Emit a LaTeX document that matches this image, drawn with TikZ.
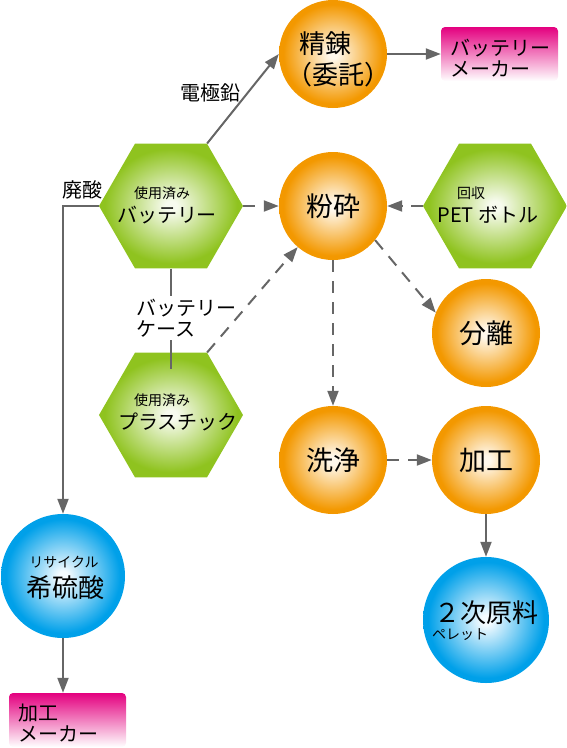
\documentclass[tikz,border=0pt]{standalone}
\usepackage{fontspec}
\setmainfont{Noto Sans CJK JP}
\usetikzlibrary{shapes.geometric,arrows.meta}
\definecolor{oe}{HTML}{F39800}
\definecolor{oc}{HTML}{FFF8EC}
\definecolor{ge}{HTML}{8FC31F}
\definecolor{gc}{HTML}{F7FBEF}
\definecolor{be}{HTML}{00A0E9}
\definecolor{bc}{HTML}{F4FBFF}
\definecolor{pe}{HTML}{E4007F}
\definecolor{lc}{HTML}{666666}
\pgfdeclareradialshading{orangeshade}{\pgfpoint{0bp}{0bp}}{color(0bp)=(oc); color(2bp)=(oc); color(23bp)=(oe); color(50bp)=(oe)}
\pgfdeclareradialshading{greenshade}{\pgfpoint{0bp}{0bp}}{color(0bp)=(gc); color(2bp)=(gc); color(23bp)=(ge); color(50bp)=(ge)}
\pgfdeclareradialshading{blueshade}{\pgfpoint{0bp}{0bp}}{color(0bp)=(bc); color(2bp)=(bc); color(23bp)=(be); color(50bp)=(be)}
\tikzset{
  ball/.style={circle, minimum size=108pt, inner sep=0pt, draw=none, shade, shading=orangeshade, font=\fontsize{27pt}{29pt}\selectfont},
  blueball/.style={circle, minimum size=#1, inner sep=0pt, draw=none, shade, shading=blueshade},
  hexa/.style={regular polygon, regular polygon sides=6, minimum size=144pt, inner sep=0pt, draw=none, shade, shading=greenshade},
  pinkbox/.style={rounded corners=4pt, top color=pe, bottom color=white, minimum width=117pt, minimum height=54pt, inner sep=0pt, draw=none},
  tsmall/.style={inner sep=0pt, font=\fontsize{14pt}{16pt}\selectfont},
  tmid/.style={inner sep=0pt, font=\fontsize{20pt}{21pt}\selectfont},
  tbig/.style={inner sep=0pt, font=\fontsize{26pt}{28pt}\selectfont},
  conn/.style={draw=lc, line width=2pt, -{Triangle[length=15pt,width=11pt]}},
  dconn/.style={conn, dash pattern=on 12pt off 9pt},
  plain/.style={draw=lc, line width=2pt}
}
\begin{document}
\begin{tikzpicture}[x=1pt,y=-1pt]
\useasboundingbox (0,0) rectangle (567,748);
% shapes
\node[ball] (jing) at (333,54) {};
\node[pinkbox] (box1) at (499.5,54) {};
\node[ball] (fen) at (333,206) {粉砕};
\node[hexa] (bat) at (171,206) {};
\node[hexa] (pet) at (495,206) {};
\node[hexa] (pla) at (171,415) {};
\node[ball] (fenli) at (486,333) {分離};
\node[ball] (xijing) at (333,460) {洗浄};
\node[ball] (jia) at (486,460) {加工};
\node[blueball=126pt] (ci) at (486,620) {};
\node[blueball=124pt] (xi) at (63,576) {};
\node[pinkbox] (box2) at (67.5,720) {};
% texts
\node[tbig] (jt1) at (325,44) {精錬};
\node[tbig] (jt2) at (338,75) {（委託）};
\node[tmid, anchor=west, align=left] (b1t) at (450,58) {バッテリー\\メーカー};
\node[tsmall] (batt1) at (162,193) {使用済み};
\node[tmid] (batt2) at (167,215) {バッテリー};
\node[tsmall] (pett1) at (471,193) {回収};
\node[tmid] (pett2) at (488,215) {PET ボトル};
\node[tsmall] (plat1) at (162,400) {使用済み};
\node[tmid] (plat2) at (178,422) {プラスチック};
\node[tsmall] (xit1) at (64,562) {リサイクル};
\node[tbig] (xit2) at (66,588) {希硫酸};
\node[tbig] (cit1) at (486,613) {２次原料};
\node[tsmall, anchor=west] (cit2) at (432,635) {ペレット};
\node[tmid, anchor=west, align=left] (b2t) at (18,723) {加工\\メーカー};
\node[tmid] (lead) at (210,93) {電極鉛};
\node[tmid] (acid) at (82,190) {廃酸};
\node[tmid, anchor=west, align=left, inner ysep=3pt] (case) at (136,318) {バッテリー\\ケース};
\coordinate (caseend) at (171,369);
% connectors
\draw[conn] (jing) -- (box1);
\draw[conn] (bat.60) -- (jing.west);
\draw[conn] (bat.west) -| (xi.north);
\draw[dconn] (bat) -- (fen);
\draw[dconn] (pet) -- (fen);
\draw[plain] (bat.south) -- (bat.south |- case.north);
\draw[plain] (caseend |- case.south) -- (caseend);
\draw[dconn] (pla.60) -- (fen);
\draw[dconn] (fen.-39) -- (fenli.158);
\draw[dconn] (fen) -- (xijing);
\draw[dconn] (xijing) -- (jia);
\draw[conn] (jia) -- (ci);
\draw[conn] (xi.south) -- (xi.south |- box2.north);
\end{tikzpicture}
\end{document}
